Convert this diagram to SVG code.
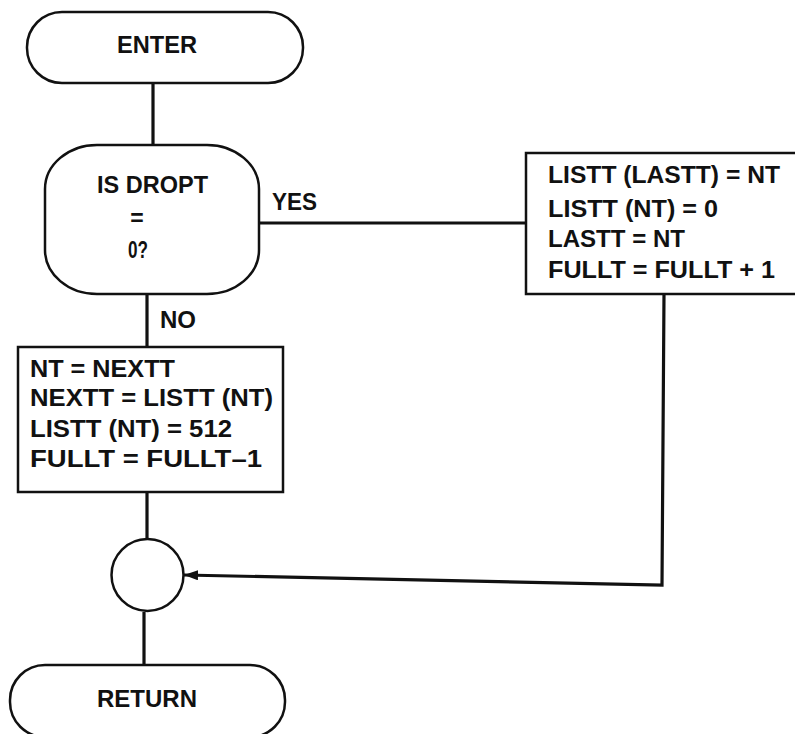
<svg xmlns="http://www.w3.org/2000/svg" width="795" height="734" viewBox="0 0 795 734">
<defs>
<style>
.shape{fill:#fff;stroke:#111;stroke-width:2.5}
.conn{fill:none;stroke:#111;stroke-width:3.2}
.t{font-family:"Liberation Sans",Arial,sans-serif;font-weight:bold;font-size:23px;fill:#111}
.c{text-anchor:middle}
</style>
<marker id="arrow" viewBox="0 0 14 10" refX="14" refY="5" markerWidth="14" markerHeight="10" markerUnits="userSpaceOnUse" orient="auto">
<path d="M0,0 L14,5 L0,10 Z" fill="#111"/>
</marker>
</defs>
<rect width="795" height="734" fill="#fff"/>
<g id="connectors">
<line class="conn" x1="153" y1="83" x2="153" y2="145"/>
<line class="conn" x1="259" y1="223" x2="526" y2="223"/>
<line class="conn" x1="147" y1="294" x2="147" y2="347"/>
<line class="conn" x1="147" y1="492" x2="147" y2="538"/>
<polyline class="conn" points="664,294 662,585 184,575" marker-end="url(#arrow)"/>
<line class="conn" x1="144" y1="612" x2="144" y2="665"/>
</g>
<g id="enter">
<rect class="shape" x="27" y="12" width="276" height="71" rx="35" ry="35"/>
<text class="t" x="117" y="53" textLength="80" lengthAdjust="spacingAndGlyphs">ENTER</text>
</g>
<g id="decision">
<rect class="shape" x="45" y="145" width="214" height="149" rx="52" ry="44"/>
<text class="t" x="97" y="193" textLength="111" lengthAdjust="spacingAndGlyphs">IS DROPT</text>
<text class="t c" x="137" y="226" font-size="20">=</text>
<text class="t" x="128" y="258" font-size="19" textLength="20" lengthAdjust="spacingAndGlyphs">0?</text>
</g>
<g id="label-yes">
<text class="t" x="272" y="210" textLength="45" lengthAdjust="spacingAndGlyphs">YES</text>
</g>
<g id="label-no">
<text class="t" x="160" y="328" textLength="36" lengthAdjust="spacingAndGlyphs">NO</text>
</g>
<g id="yes-box">
<rect class="shape" x="526" y="153" width="280" height="141"/>
<text class="t" x="548" y="183" textLength="232" lengthAdjust="spacingAndGlyphs">LISTT (LASTT) = NT</text>
<text class="t" x="548" y="217" textLength="170" lengthAdjust="spacingAndGlyphs">LISTT (NT) = 0</text>
<text class="t" x="548" y="247" textLength="137" lengthAdjust="spacingAndGlyphs">LASTT = NT</text>
<text class="t" x="548" y="278" textLength="227" lengthAdjust="spacingAndGlyphs">FULLT = FULLT + 1</text>
</g>
<g id="no-box">
<rect class="shape" x="18" y="347" width="265" height="145"/>
<text class="t" x="30" y="377" textLength="145" lengthAdjust="spacingAndGlyphs">NT = NEXTT</text>
<text class="t" x="30" y="406" textLength="243" lengthAdjust="spacingAndGlyphs">NEXTT = LISTT (NT)</text>
<text class="t" x="30" y="437" textLength="202" lengthAdjust="spacingAndGlyphs">LISTT (NT) = 512</text>
<text class="t" x="30" y="467" textLength="232" lengthAdjust="spacingAndGlyphs">FULLT = FULLT–1</text>
</g>
<g id="junction">
<circle class="shape" cx="147.5" cy="575" r="36"/>
</g>
<g id="return">
<rect class="shape" x="10" y="665" width="275" height="72" rx="35" ry="35"/>
<text class="t" x="97" y="707" textLength="100" lengthAdjust="spacingAndGlyphs">RETURN</text>
</g>
</svg>
